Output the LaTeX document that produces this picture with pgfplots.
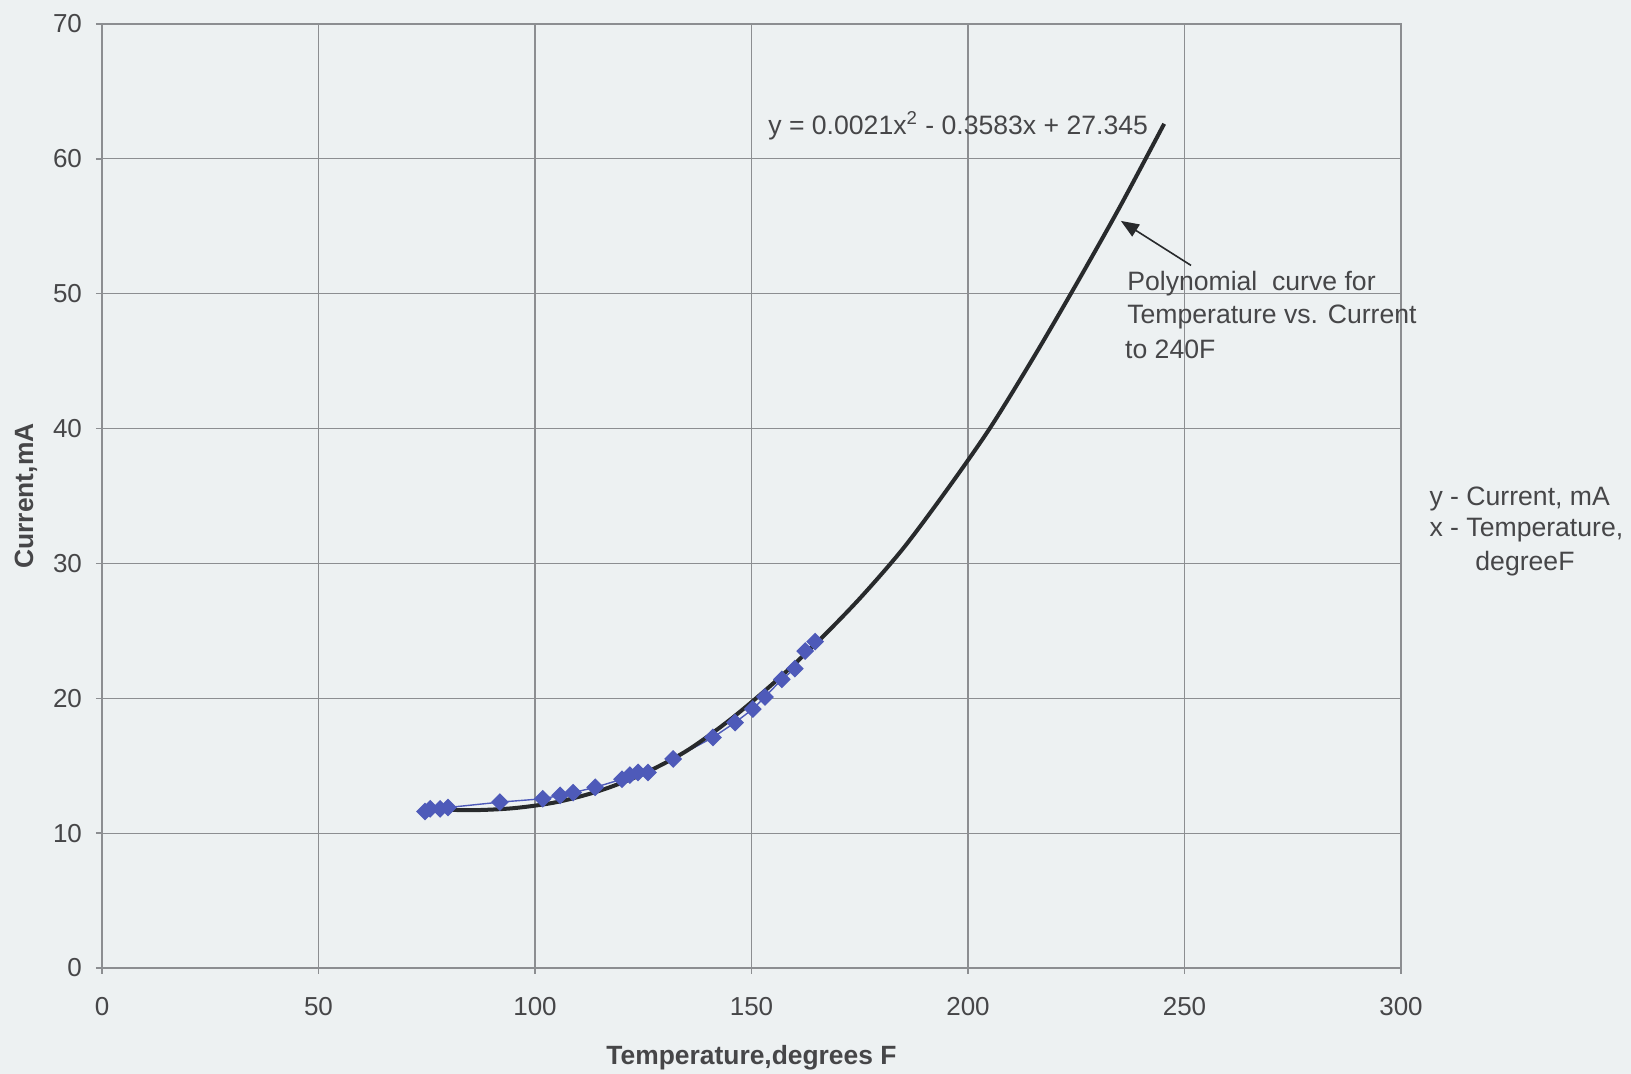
\documentclass[border=0pt]{standalone}
\usepackage{pgfplots}
\pgfplotsset{compat=1.18}
\usepackage{fontspec}
\setmainfont{Liberation Sans}
\usetikzlibrary{arrows.meta}
\definecolor{paper}{RGB}{237,241,242}
\definecolor{ptblue}{RGB}{78,90,185}
\definecolor{curvec}{RGB}{40,42,44}
\definecolor{gridc}{RGB}{140,142,145}
\definecolor{txt}{RGB}{70,70,72}

\pgfplotstableread{
x y
74.6 11.6
75.8 11.8
78.1 11.8
79.9 11.9
91.9 12.3
101.8 12.55
105.8 12.8
108.8 13.0
113.9 13.4
120.1 14.0
121.9 14.3
123.8 14.5
126.1 14.5
131.9 15.5
141.1 17.1
146.2 18.2
150.3 19.2
153.1 20.1
157.0 21.4
160.0 22.2
162.4 23.5
164.7 24.2
}\datatable

\pgfplotstableread{
x y
75 11.8
85 11.7
95 11.85
105 12.3
115 13.15
125 14.4
135 16.1
145 18.4
155 21.1
165 24.1
175 27.4
185 31.1
195 35.4
205 40.0
215 45.2
225 50.7
235 56.4
245.3 62.6
}\curvetable

\begin{document}
\begin{tikzpicture}
\fill[paper] (-51pt,-53pt) rectangle (764.5pt,484pt);
\begin{axis}[
  scale only axis,
  width=649.5pt, height=472pt,
  xmin=0, xmax=300, ymin=0, ymax=70,
  xtick={0,50,...,300}, ytick={0,10,...,70},
  grid=major,
  major grid style={gridc, line width=0.6pt},
  axis line style={gridc, line width=0.7pt},
  tick style={gridc, line width=0.7pt},
  tick align=outside, major tick length=3pt,
  xtick pos=bottom, ytick pos=left,
  axis background/.style={fill=paper},
  /pgf/number format/assume math mode=true,
  ticklabel style={font=\fontsize{13}{15}\selectfont, text=txt},
  xticklabel style={yshift=-8pt},
  yticklabel style={xshift=-3.5pt},
  xlabel={\textbf{Temperature,degrees F}},
  ylabel={\textbf{Current,mA}},
  label style={font=\fontsize{13.2}{15}\selectfont, text=txt, inner sep=0pt},
  xlabel style={at={(axis description cs:0.5,-0.0953)}, anchor=center},
  ylabel style={at={(axis description cs:-0.0585,0.5)}, anchor=center},
  clip=false,
]
\addplot[ptblue, line width=0.7pt, mark=square*, mark size=2.8pt,
  mark options={rotate=45, fill=ptblue, draw=ptblue}] table[x=x,y=y] {\datatable};
\addplot[curvec, line width=2pt, smooth, tension=0.5, no markers] table[x=x,y=y] {\curvetable};

\node[anchor=base west, inner sep=0, font=\fontsize{13.3}{15}\selectfont, text=txt]
  at (axis cs:153.8,61.8) {y = 0.0021x\textsuperscript{2} - 0.3583x + 27.345};
\node[anchor=base west, inner sep=0, font=\fontsize{13.3}{15}\selectfont, text=txt]
  at (axis cs:236.7,50.24) {Polynomial\ \ curve for};
\node[anchor=base west, inner sep=0, font=\fontsize{13.3}{15}\selectfont, text=txt]
  at (axis cs:236.7,47.79) {Temperature vs. Current};
\node[anchor=base west, inner sep=0, font=\fontsize{13.3}{15}\selectfont, text=txt]
  at (axis cs:236.2,45.2) {to 240F};
\draw[curvec, line width=0.8pt, -{Triangle[length=9pt,width=7pt]}]
  (axis cs:251.5,52.1) -- (axis cs:235.3,55.4);
\node[anchor=base west, inner sep=0, font=\fontsize{13.3}{15}\selectfont, text=txt]
  at (axis cs:306.5,34.3) {y - Current, mA};
\node[anchor=base west, inner sep=0, font=\fontsize{13.3}{15}\selectfont, text=txt]
  at (axis cs:306.5,32.0) {x - Temperature,};
\node[anchor=base west, inner sep=0, font=\fontsize{13.3}{15}\selectfont, text=txt]
  at (axis cs:317.1,29.5) {degreeF};
\end{axis}
\end{tikzpicture}
\end{document}
